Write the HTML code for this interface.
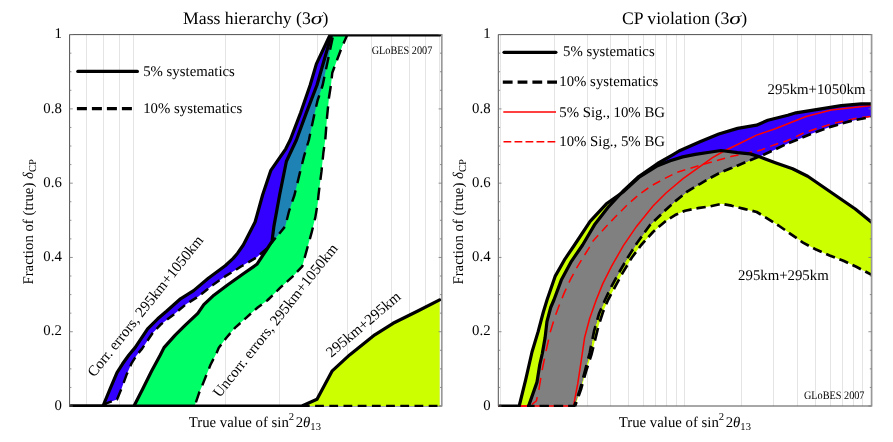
<!DOCTYPE html>
<html><head><meta charset="utf-8"><title>chart</title>
<style>
html,body{margin:0;padding:0;background:#fff;}
body{width:893px;height:442px;overflow:hidden;}
svg{display:block;will-change:transform;}
text{font-family:"Liberation Serif",serif;fill:#000;text-rendering:geometricPrecision;}
.t{font-size:17.7px;}
.l{font-size:14.8px;}
.k{font-size:14.8px;}
.g{font-size:11.5px;}
.grid line{stroke:#e4e4e4;stroke-width:1;}
.tk line{stroke:#777;stroke-width:0.8;}
.s{fill:none;stroke:#000;stroke-width:3.2;stroke-linejoin:round;stroke-linecap:round;}
.d{fill:none;stroke:#000;stroke-width:2.45;stroke-linejoin:round;}
.dr{stroke-width:2.7;}
.dl{fill:none;stroke:#000;stroke-width:3.2;}
.rs{fill:none;stroke:#f00;stroke-width:1.55;}
.rd{fill:none;stroke:#f00;stroke-width:1.55;stroke-dasharray:7.8 3.2;}
</style></head><body>
<svg width="893" height="442" viewBox="0 0 893 442">
<rect width="893" height="442" fill="#fff"/>
<defs>
<clipPath id="cl"><rect x="69.6" y="33.9" width="372.20000000000005" height="373.2"/></clipPath>
<clipPath id="cr"><rect x="498.3" y="33.9" width="373.3" height="373.2"/></clipPath>
<clipPath id="cg"><polygon points="134.0,406.0 142.7,388.9 151.5,371.3 160.3,355.0 164.0,347.6 175.2,335.1 185.3,325.1 197.8,313.4 203.8,304.7 213.9,295.2 227.5,285.0 243.3,273.8 256.9,264.3 266.4,250.0 272.0,241.4 273.9,226.4 279.6,195.0 286.4,161.3 296.4,140.0 306.4,112.6 317.0,85.0 331.5,34.6 441.0,34.6 347.4,34.6 342.2,46.3 332.3,72.7 331.0,85.0 329.0,97.5 327.1,116.4 325.2,140.0 323.4,152.5 321.5,171.4 318.5,195.0 317.8,202.5 315.3,217.6 311.6,232.6 306.6,250.6 302.3,266.3 292.8,276.4 280.3,287.7 267.8,300.0 257.7,307.5 246.4,317.6 235.2,327.6 226.4,337.7 218.8,347.7 216.7,352.7 210.4,365.0 201.9,386.4 199.2,392.6 194.6,406.0"/></clipPath>
<clipPath id="cy"><polygon points="519.2,406.0 525.7,379.6 532.0,352.0 538.2,331.4 543.2,312.5 547.0,300.0 555.1,276.4 565.1,258.8 574.5,245.0 590.1,221.4 606.4,203.8 622.7,192.3 638.8,177.5 657.6,165.7 670.2,160.7 682.7,156.9 695.3,154.4 707.8,152.5 721.0,150.5 737.6,152.6 750.2,153.9 760.2,157.0 775.3,162.7 792.6,168.8 807.7,176.3 855.3,209.0 871.6,222.3 871.6,274.8 856.3,266.8 843.4,260.8 829.6,255.4 816.1,249.6 803.0,242.6 790.4,233.8 778.5,225.5 766.3,217.8 756.7,212.0 744.1,208.9 731.6,205.7 721.5,203.8 710.2,206.3 697.7,208.2 685.1,210.7 675.1,215.1 665.2,221.4 653.0,232.0 641.2,245.0 631.9,257.5 622.8,272.6 615.3,286.4 608.0,300.0 602.8,312.5 598.4,326.3 594.4,342.7 591.6,354.0 586.2,370.8 580.9,389.6 575.1,406.0"/></clipPath>
</defs>
<g class="grid"><line x1="86.5" y1="34.6" x2="86.5" y2="406.0"/><line x1="103.5" y1="34.6" x2="103.5" y2="406.0"/><line x1="119.5" y1="34.6" x2="119.5" y2="406.0"/><line x1="133.5" y1="34.6" x2="133.5" y2="406.0"/><line x1="225.5" y1="34.6" x2="225.5" y2="406.0"/><line x1="279.5" y1="34.6" x2="279.5" y2="406.0"/><line x1="317.5" y1="34.6" x2="317.5" y2="406.0"/><line x1="347.5" y1="34.6" x2="347.5" y2="406.0"/><line x1="371.5" y1="34.6" x2="371.5" y2="406.0"/><line x1="391.5" y1="34.6" x2="391.5" y2="406.0"/><line x1="409.5" y1="34.6" x2="409.5" y2="406.0"/><line x1="425.5" y1="34.6" x2="425.5" y2="406.0"/><line x1="439.5" y1="34.6" x2="439.5" y2="406.0"/></g>
<line x1="69.6" y1="406.0" x2="441.8" y2="406.0" stroke="#505050" stroke-width="1"/>
<g clip-path="url(#cl)">
<polygon fill="#3300ff" points="103.0,406.0 110.1,388.9 117.0,372.6 122.6,363.8 128.9,355.0 135.1,347.6 147.6,328.8 157.7,318.8 166.5,311.3 180.5,298.8 193.6,290.6 208.3,278.2 225.2,265.7 233.2,258.4 237.6,253.2 243.3,245.0 255.1,222.0 262.6,195.0 270.7,170.7 285.8,148.8 290.2,140.0 300.7,112.6 310.2,85.0 316.4,63.9 330.2,34.6 333.3,34.6 322.7,85.0 317.7,100.0 313.9,116.4 308.9,140.0 304.0,156.3 300.2,171.4 294.5,195.0 289.0,211.3 285.2,226.4 272.7,241.4 265.2,250.0 256.5,257.5 241.4,266.3 225.1,276.4 212.5,285.2 198.4,296.4 186.0,304.2 173.5,314.8 161.1,324.2 152.3,333.5 142.3,348.4 136.5,355.5 131.8,362.8 126.4,375.1 121.4,388.9 117.0,399.5 106.3,403.3 104.5,406.0"/>
<polygon fill="#00ff66" points="134.0,406.0 142.7,388.9 151.5,371.3 160.3,355.0 164.0,347.6 175.2,335.1 185.3,325.1 197.8,313.4 203.8,304.7 213.9,295.2 227.5,285.0 243.3,273.8 256.9,264.3 266.4,250.0 272.0,241.4 273.9,226.4 279.6,195.0 286.4,161.3 296.4,140.0 306.4,112.6 317.0,85.0 331.5,34.6 347.4,34.6 342.2,46.3 332.3,72.7 331.0,85.0 329.0,97.5 327.1,116.4 325.2,140.0 323.4,152.5 321.5,171.4 318.5,195.0 317.8,202.5 315.3,217.6 311.6,232.6 306.6,250.6 302.3,266.3 292.8,276.4 280.3,287.7 267.8,300.0 257.7,307.5 246.4,317.6 235.2,327.6 226.4,337.7 218.8,347.7 216.7,352.7 210.4,365.0 201.9,386.4 199.2,392.6 194.6,406.0"/>
<polygon fill="#1f82b4" clip-path="url(#cg)" points="103.0,406.0 110.1,388.9 117.0,372.6 122.6,363.8 128.9,355.0 135.1,347.6 147.6,328.8 157.7,318.8 166.5,311.3 180.5,298.8 193.6,290.6 208.3,278.2 225.2,265.7 233.2,258.4 237.6,253.2 243.3,245.0 255.1,222.0 262.6,195.0 270.7,170.7 285.8,148.8 290.2,140.0 300.7,112.6 310.2,85.0 316.4,63.9 330.2,34.6 333.3,34.6 322.7,85.0 317.7,100.0 313.9,116.4 308.9,140.0 304.0,156.3 300.2,171.4 294.5,195.0 289.0,211.3 285.2,226.4 272.7,241.4 265.2,250.0 256.5,257.5 241.4,266.3 225.1,276.4 212.5,285.2 198.4,296.4 186.0,304.2 173.5,314.8 161.1,324.2 152.3,333.5 142.3,348.4 136.5,355.5 131.8,362.8 126.4,375.1 121.4,388.9 117.0,399.5 106.3,403.3 104.5,406.0"/>
<polygon fill="#ccff00" points="301.9,406.0 317.0,399.3 332.0,371.2 349.6,354.9 374.8,334.8 393.1,323.3 418.3,310.7 439.6,299.8 439.6,406.0"/>
<path class="d" d="M104.5,406.0 L106.3,403.3 L111.8,401.3 M116.9,399.5 L117.0,399.5 L121.2,389.4 M123.6,382.9 L126.4,375.1 L127.6,372.4 M130.3,366.2 L131.8,362.8 L135.3,357.4 M138.6,352.9 L142.3,348.4 L144.1,345.6 M147.4,340.8 L152.3,333.5 L152.8,332.9 M156.5,329.0 L161.1,324.2 L162.8,322.9 M167.1,319.6 L173.5,314.8 L174.1,314.3 M178.2,310.8 L185.0,305.1 M189.4,302.1 L196.9,297.4 M201.2,294.2 L208.1,288.7 M212.3,285.3 L212.5,285.2 L219.5,280.3 M224.0,277.2 L225.1,276.4 L231.4,272.5 M236.0,269.7 L241.4,266.3 L243.5,265.1 M248.2,262.4 L255.8,257.9 M259.9,254.5 L265.2,250.0 L266.4,248.6 M270.0,244.5 L272.7,241.4 L275.7,237.8 M279.2,233.7 L284.8,226.9 M286.8,220.0 L289.0,211.3 L290.0,208.4 M292.2,201.7 L294.5,195.0 L295.6,190.4 M297.4,183.1 L300.2,171.4 L300.2,171.3 M302.1,164.0 L304.0,156.3 L305.2,152.4 M307.2,145.5 L308.9,140.0 L310.2,133.8 M311.8,126.3 L313.9,116.4 L314.4,114.2 M316.1,106.8 L317.7,100.0 L319.3,95.3 M321.5,88.6 L322.7,85.0 L324.4,76.8 M326.0,69.3 L328.6,57.1 M330.1,49.7 L332.7,37.5"/>
<path class="d" d="M195.9,402.4 L199.2,392.6 L199.7,391.6 M202.3,385.4 L206.4,375.0 M209.0,368.6 L210.4,365.0 L213.5,358.9 M216.4,353.2 L216.7,352.7 L218.8,347.7 L221.3,344.4 M224.7,339.9 L226.4,337.7 L230.4,333.1 M234.0,329.0 L235.2,327.6 L240.4,323.0 M244.4,319.4 L246.4,317.6 L250.9,313.5 M255.0,309.9 L257.7,307.5 L261.8,304.4 M266.2,301.2 L267.8,300.0 L272.6,295.3 M276.5,291.5 L280.3,287.7 L282.8,285.4 M286.8,281.8 L292.8,276.4 L293.3,275.8 M297.0,271.9 L302.3,266.3 L302.7,264.9 M304.6,257.8 L306.6,250.6 L307.8,246.2 M309.8,239.1 L311.6,232.6 L312.9,227.5 M314.6,220.2 L315.3,217.6 L316.9,207.9 M318.0,200.2 L318.5,195.0 L319.4,187.6 M320.4,179.9 L321.5,171.4 L321.9,167.3 M322.7,159.6 L323.4,152.5 L324.2,147.0 M325.3,139.3 L326.3,126.7 M326.9,118.9 L327.1,116.4 L328.1,106.3 M328.9,98.6 L329.0,97.5 L330.8,86.0 M331.7,78.3 L332.3,72.7 L334.5,66.8 M336.9,60.3 L340.9,49.7 M343.5,43.4 L347.4,34.6"/>
<path class="d" d="M301.9,406.0 L309.7,406.0 M315.1,406.0 L323.9,406.0 M329.3,406.0 L338.1,406.0 M343.5,406.0 L352.3,406.0 M357.7,406.0 L366.5,406.0 M371.9,406.0 L380.7,406.0 M386.1,406.0 L394.9,406.0 M400.3,406.0 L409.1,406.0 M414.5,406.0 L423.3,406.0 M428.7,406.0 L437.5,406.0"/>
<polyline class="s" points="70.6,406.0 103.0,406.0 110.1,388.9 117.0,372.6 122.6,363.8 128.9,355.0 135.1,347.6 147.6,328.8 157.7,318.8 166.5,311.3 180.5,298.8 193.6,290.6 208.3,278.2 225.2,265.7 233.2,258.4 237.6,253.2 243.3,245.0 255.1,222.0 262.6,195.0 270.7,170.7 285.8,148.8 290.2,140.0 300.7,112.6 310.2,85.0 316.4,63.9 330.2,34.6 439.8,35.0"/>
<polyline class="s" points="134.0,406.0 142.7,388.9 151.5,371.3 160.3,355.0 164.0,347.6 175.2,335.1 185.3,325.1 197.8,313.4 203.8,304.7 213.9,295.2 227.5,285.0 243.3,273.8 256.9,264.3 266.4,250.0 272.0,241.4 273.9,226.4 279.6,195.0 286.4,161.3 296.4,140.0 306.4,112.6 317.0,85.0 331.5,34.6"/>
<polyline class="s" points="70.6,406.0 301.9,406.0 317.0,399.3 332.0,371.2 349.6,354.9 374.8,334.8 393.1,323.3 418.3,310.7 439.6,299.8"/>
</g>
<path d="M441.8,34.6 L69.6,34.6 L69.6,406.0" fill="none" stroke="#505050" stroke-width="1"/><line x1="441.8" y1="34.1" x2="441.8" y2="406.5" stroke="#999" stroke-width="1.7"/>
<g class="tk"><line x1="69.6" y1="406.00" x2="72.8" y2="406.00"/><line x1="441.8" y1="406.00" x2="438.6" y2="406.00"/><line x1="69.6" y1="387.43" x2="71.39999999999999" y2="387.43"/><line x1="441.8" y1="387.43" x2="440.0" y2="387.43"/><line x1="69.6" y1="368.86" x2="71.39999999999999" y2="368.86"/><line x1="441.8" y1="368.86" x2="440.0" y2="368.86"/><line x1="69.6" y1="350.29" x2="71.39999999999999" y2="350.29"/><line x1="441.8" y1="350.29" x2="440.0" y2="350.29"/><line x1="69.6" y1="331.72" x2="72.8" y2="331.72"/><line x1="441.8" y1="331.72" x2="438.6" y2="331.72"/><line x1="69.6" y1="313.15" x2="71.39999999999999" y2="313.15"/><line x1="441.8" y1="313.15" x2="440.0" y2="313.15"/><line x1="69.6" y1="294.58" x2="71.39999999999999" y2="294.58"/><line x1="441.8" y1="294.58" x2="440.0" y2="294.58"/><line x1="69.6" y1="276.01" x2="71.39999999999999" y2="276.01"/><line x1="441.8" y1="276.01" x2="440.0" y2="276.01"/><line x1="69.6" y1="257.44" x2="72.8" y2="257.44"/><line x1="441.8" y1="257.44" x2="438.6" y2="257.44"/><line x1="69.6" y1="238.87" x2="71.39999999999999" y2="238.87"/><line x1="441.8" y1="238.87" x2="440.0" y2="238.87"/><line x1="69.6" y1="220.30" x2="71.39999999999999" y2="220.30"/><line x1="441.8" y1="220.30" x2="440.0" y2="220.30"/><line x1="69.6" y1="201.73" x2="71.39999999999999" y2="201.73"/><line x1="441.8" y1="201.73" x2="440.0" y2="201.73"/><line x1="69.6" y1="183.16" x2="72.8" y2="183.16"/><line x1="441.8" y1="183.16" x2="438.6" y2="183.16"/><line x1="69.6" y1="164.59" x2="71.39999999999999" y2="164.59"/><line x1="441.8" y1="164.59" x2="440.0" y2="164.59"/><line x1="69.6" y1="146.02" x2="71.39999999999999" y2="146.02"/><line x1="441.8" y1="146.02" x2="440.0" y2="146.02"/><line x1="69.6" y1="127.45" x2="71.39999999999999" y2="127.45"/><line x1="441.8" y1="127.45" x2="440.0" y2="127.45"/><line x1="69.6" y1="108.88" x2="72.8" y2="108.88"/><line x1="441.8" y1="108.88" x2="438.6" y2="108.88"/><line x1="69.6" y1="90.31" x2="71.39999999999999" y2="90.31"/><line x1="441.8" y1="90.31" x2="440.0" y2="90.31"/><line x1="69.6" y1="71.74" x2="71.39999999999999" y2="71.74"/><line x1="441.8" y1="71.74" x2="440.0" y2="71.74"/><line x1="69.6" y1="53.17" x2="71.39999999999999" y2="53.17"/><line x1="441.8" y1="53.17" x2="440.0" y2="53.17"/><line x1="69.6" y1="34.60" x2="72.8" y2="34.60"/><line x1="441.8" y1="34.60" x2="438.6" y2="34.60"/></g>
<text class="k" x="61.8" y="38.3" text-anchor="end">1</text><text class="k" x="61.8" y="112.6" text-anchor="end">0.8</text><text class="k" x="61.8" y="186.9" text-anchor="end">0.6</text><text class="k" x="61.8" y="261.1" text-anchor="end">0.4</text><text class="k" x="61.8" y="335.4" text-anchor="end">0.2</text><text class="k" x="61.8" y="409.7" text-anchor="end">0</text>
<text class="l" x="188.7" y="427.2">True value of sin<tspan font-size="10.6" dy="-6.8">2</tspan><tspan dy="6.8" dx="1.5">2</tspan><tspan font-style="italic">θ</tspan><tspan font-size="10.6" dy="2.5">13</tspan></text>
<text class="l" transform="translate(32.6,221.8) rotate(-90)" text-anchor="middle">Fraction of (true) <tspan font-style="italic">δ</tspan><tspan font-size="10.6" dy="3">CP</tspan></text>
<text class="t" x="183.1" y="24.3">Mass hierarchy (3<tspan font-style="italic" textLength="11.8" lengthAdjust="spacingAndGlyphs">σ</tspan>)</text>
<text class="g" x="371.7" y="53.9" textLength="60.6" lengthAdjust="spacingAndGlyphs">GLoBES 2007</text>
<line class="s" x1="77.8" y1="71.4" x2="137.4" y2="71.4" stroke-linecap="round"/>
<line class="dl" stroke-dasharray="10 5" x1="76.9" y1="108.6" x2="132.1" y2="108.6"/>
<text class="l" x="143.2" y="76">5% systematics</text>
<text class="l" x="143.2" y="113">10% systematics</text>
<text class="l" transform="translate(94.3,377.8) rotate(-51.4)" style="font-size:15px">Corr. errors, 295km+1050km</text>
<text class="l" transform="translate(219.8,398.2) rotate(-51.6)" style="font-size:15px">Uncorr. errors, 295km+1050km</text>
<text class="l" transform="translate(331.3,358) rotate(-40.3)" style="font-size:15.1px">295km+295km</text>
<g class="grid"><line x1="500.5" y1="34.6" x2="500.5" y2="406.0"/><line x1="554.5" y1="34.6" x2="554.5" y2="406.0"/><line x1="587.5" y1="34.6" x2="587.5" y2="406.0"/><line x1="610.5" y1="34.6" x2="610.5" y2="406.0"/><line x1="628.5" y1="34.6" x2="628.5" y2="406.0"/><line x1="643.5" y1="34.6" x2="643.5" y2="406.0"/><line x1="655.5" y1="34.6" x2="655.5" y2="406.0"/><line x1="666.5" y1="34.6" x2="666.5" y2="406.0"/><line x1="676.5" y1="34.6" x2="676.5" y2="406.0"/><line x1="684.5" y1="34.6" x2="684.5" y2="406.0"/><line x1="741.5" y1="34.6" x2="741.5" y2="406.0"/><line x1="773.5" y1="34.6" x2="773.5" y2="406.0"/><line x1="797.5" y1="34.6" x2="797.5" y2="406.0"/><line x1="815.5" y1="34.6" x2="815.5" y2="406.0"/><line x1="830.5" y1="34.6" x2="830.5" y2="406.0"/><line x1="842.5" y1="34.6" x2="842.5" y2="406.0"/><line x1="853.5" y1="34.6" x2="853.5" y2="406.0"/><line x1="862.5" y1="34.6" x2="862.5" y2="406.0"/></g>
<line x1="498.3" y1="406.0" x2="871.6" y2="406.0" stroke="#505050" stroke-width="1"/>
<g clip-path="url(#cr)">
<polygon fill="#ccff00" points="519.2,406.0 525.7,379.6 532.0,352.0 538.2,331.4 543.2,312.5 547.0,300.0 555.1,276.4 565.1,258.8 574.5,245.0 590.1,221.4 606.4,203.8 622.7,192.3 638.8,177.5 657.6,165.7 670.2,160.7 682.7,156.9 695.3,154.4 707.8,152.5 721.0,150.5 737.6,152.6 750.2,153.9 760.2,157.0 775.3,162.7 792.6,168.8 807.7,176.3 855.3,209.0 871.6,222.3 871.6,274.8 856.3,266.8 843.4,260.8 829.6,255.4 816.1,249.6 803.0,242.6 790.4,233.8 778.5,225.5 766.3,217.8 756.7,212.0 744.1,208.9 731.6,205.7 721.5,203.8 710.2,206.3 697.7,208.2 685.1,210.7 675.1,215.1 665.2,221.4 653.0,232.0 641.2,245.0 631.9,257.5 622.8,272.6 615.3,286.4 608.0,300.0 602.8,312.5 598.4,326.3 594.4,342.7 591.6,354.0 586.2,370.8 580.9,389.6 575.1,406.0"/>
<polygon fill="#3300ff" points="528.6,406.0 537.0,382.1 539.8,364.5 542.3,353.5 545.1,337.6 547.0,321.3 550.7,307.5 553.9,300.0 561.3,280.1 571.4,261.3 582.6,245.0 595.1,223.9 608.9,206.3 622.7,191.5 638.8,176.5 657.6,163.5 672.7,154.8 679.0,151.0 700.0,141.8 718.8,134.0 737.6,128.4 756.5,125.2 767.8,120.2 787.8,115.2 796.0,112.8 841.2,105.7 861.3,103.8 871.6,103.8 871.6,116.8 851.3,120.9 831.2,126.6 812.0,133.4 800.4,138.4 787.8,143.4 775.3,149.4 762.7,155.2 750.2,160.2 732.0,167.8 720.4,172.6 707.8,179.2 700.2,183.8 687.6,191.3 674.0,202.3 662.0,213.5 650.2,224.8 637.0,243.0 627.8,257.5 619.0,272.6 611.5,286.4 605.2,299.5 599.0,313.8 594.0,331.4 589.8,352.5 585.0,370.8 580.0,389.6 574.3,406.0"/>
<polygon fill="#808080" clip-path="url(#cy)" points="528.6,406.0 537.0,382.1 539.8,364.5 542.3,353.5 545.1,337.6 547.0,321.3 550.7,307.5 553.9,300.0 561.3,280.1 571.4,261.3 582.6,245.0 595.1,223.9 608.9,206.3 622.7,191.5 638.8,176.5 657.6,163.5 672.7,154.8 679.0,151.0 700.0,141.8 718.8,134.0 737.6,128.4 756.5,125.2 767.8,120.2 787.8,115.2 796.0,112.8 841.2,105.7 861.3,103.8 871.6,103.8 871.6,116.8 851.3,120.9 831.2,126.6 812.0,133.4 800.4,138.4 787.8,143.4 775.3,149.4 762.7,155.2 750.2,160.2 732.0,167.8 720.4,172.6 707.8,179.2 700.2,183.8 687.6,191.3 674.0,202.3 662.0,213.5 650.2,224.8 637.0,243.0 627.8,257.5 619.0,272.6 611.5,286.4 605.2,299.5 599.0,313.8 594.0,331.4 589.8,352.5 585.0,370.8 580.0,389.6 574.3,406.0"/>
<polyline class="rs" points="498.3,406.0 573.4,406.0 573.6,405.3 577.8,383.4 582.3,353.5 584.6,337.6 589.6,318.8 596.2,300.0 602.7,283.9 611.5,266.3 623.4,245.6 636.5,226.4 652.8,206.3 666.0,193.0 682.7,178.9 700.2,166.3 712.5,157.7 725.1,150.5 737.6,144.5 756.5,135.1 775.3,128.8 794.1,121.3 806.1,116.5 831.2,110.0 871.6,105.6"/>
<path class="rs" d="M498.3,406.0 L499.5,406.0 M504.9,406.0 L513.3,406.0 M518.7,406.0 L527.1,406.0 M531.9,404.5 L536.4,400.9 L537.2,397.2 M538.8,389.8 L538.9,389.6 L540.8,377.9 M542.1,370.2 L544.5,358.6 M546.0,351.1 L548.6,339.6 M550.2,332.2 L553.5,321.5 M555.7,314.7 L559.5,304.6 M562.1,298.2 L563.8,293.9 L566.2,288.6 M569.0,282.6 L570.1,280.1 L573.5,273.8 M576.5,268.2 L577.6,266.3 L581.4,260.1 M584.6,255.0 L588.9,248.1 L589.6,246.9 M592.6,241.4 L598.2,235.2 M601.9,231.2 L603.9,228.9 L607.6,225.0 M611.3,221.1 L615.2,217.0 L617.1,215.1 M621.0,211.2 L626.9,205.3 M630.9,201.7 L637.2,196.1 M641.4,192.8 L648.3,188.0 M652.8,185.0 L660.2,181.0 M664.9,178.4 L672.4,174.6 M677.3,172.3 L685.3,169.8 M690.5,168.2 L698.5,165.8 M703.7,164.3 L705.3,163.8 L711.8,161.9 M717.0,160.4 L720.4,159.4 L725.1,158.2 M730.3,156.8 L732.0,156.3 L738.5,154.9 M743.7,153.8 L752.0,152.0 M757.2,150.9 L760.9,150.1 L765.2,148.4 M770.2,146.4 L774.0,144.9 L778.2,143.6 M783.3,142.0 L787.0,140.8 L791.1,138.9 M796.0,136.6 L803.6,133.0 M808.7,131.2 L816.7,128.6 M821.8,127.0 L829.8,124.4 M835.0,123.0 L843.2,121.2 M848.5,120.0 L856.3,118.2 L856.7,118.2 M862.0,117.5 L870.4,116.5"/>
<path class="d dr" d="M575.1,406.0 L576.5,402.0 M578.6,396.0 L580.9,389.6 L582.4,384.1 M584.2,377.7 L586.2,370.8 L587.9,365.6 M589.8,359.5 L591.6,354.0 L593.3,347.2 M594.9,340.6 L598.0,328.0 M599.9,321.7 L602.8,312.5 L603.8,310.0 M606.2,304.3 L608.0,300.0 L611.1,294.1 M613.9,289.1 L615.3,286.4 L619.1,279.4 M621.8,274.4 L622.8,272.6 L627.3,265.2 M630.1,260.4 L631.9,257.5 L635.9,252.1 M639.0,248.0 L641.2,245.0 L645.1,240.7 M648.4,237.1 L653.0,232.0 L654.9,230.3 M658.6,227.1 L665.2,221.4 L665.8,221.0 M669.9,218.4 L675.1,215.1 L678.1,213.8 M682.6,211.8 L685.1,210.7 L691.6,209.4 M696.4,208.5 L697.7,208.2 L705.7,207.0 M710.6,206.2 L719.7,204.2 M724.5,204.4 L731.6,205.7 L733.7,206.2 M738.5,207.5 L744.1,208.9 L747.6,209.8 M752.4,210.9 L756.7,212.0 L760.9,214.5 M765.1,217.1 L766.3,217.8 L773.1,222.1 M777.2,224.7 L778.5,225.5 L785.0,230.0 M789.0,232.8 L790.4,233.8 L796.7,238.2 M800.7,241.0 L803.0,242.6 L808.8,245.7 M813.2,248.0 L816.1,249.6 L821.7,252.0 M826.2,253.9 L829.6,255.4 L834.9,257.5 M839.4,259.2 L843.4,260.8 L848.1,263.0 M852.5,265.0 L856.3,266.8 L860.9,269.2 M865.3,271.5 L871.6,274.8"/>
<path class="d dr" d="M527.0,406.0 L534.6,406.0 M539.5,406.0 L548.9,406.0 M553.8,406.0 L563.2,406.0 M568.1,406.0 L574.3,406.0 L575.7,402.0 M577.8,396.0 L580.0,389.6 L581.5,384.0 M583.2,377.5 L585.0,370.8 L586.5,365.1 M588.2,358.6 L589.8,352.5 L591.1,345.8 M592.5,338.9 L594.0,331.4 L595.5,326.2 M597.3,319.8 L599.0,313.8 L601.4,308.4 M603.8,302.8 L605.2,299.5 L608.6,292.4 M611.2,287.0 L611.5,286.4 L616.4,277.3 M619.2,272.3 L624.6,263.0 M627.4,258.2 L627.8,257.5 L633.0,249.3 M635.9,244.7 L637.0,243.0 L641.7,236.5 M644.7,232.3 L650.2,224.8 L650.6,224.4 M654.2,221.0 L661.0,214.5 M664.5,211.1 L671.4,204.7 M675.1,201.4 L682.4,195.5 M686.2,192.4 L687.6,191.3 L694.1,187.4 M698.3,184.9 L700.2,183.8 L706.4,180.1 M710.7,177.7 L719.0,173.3 M723.5,171.3 L732.0,167.8 L732.1,167.7 M736.7,165.9 L745.3,162.2 M749.9,160.3 L750.2,160.2 L758.6,156.8 M763.1,155.0 L771.7,151.1 M776.1,149.0 L784.6,144.9 M789.0,142.9 L797.8,139.4 M802.3,137.6 L810.9,133.9 M815.5,132.2 L824.4,129.0 M829.0,127.4 L831.2,126.6 L838.0,124.7 M842.7,123.3 L851.3,120.9 L851.8,120.8 M856.6,119.8 L865.8,118.0 M870.6,117.0 L871.6,116.8"/>
<polyline class="s" points="499.3,406.0 519.2,406.0 525.7,379.6 532.0,352.0 538.2,331.4 543.2,312.5 547.0,300.0 555.1,276.4 565.1,258.8 574.5,245.0 590.1,221.4 606.4,203.8 622.7,192.3 638.8,177.5 657.6,165.7 670.2,160.7 682.7,156.9 695.3,154.4 707.8,152.5 721.0,150.5 737.6,152.6 750.2,153.9 760.2,157.0 775.3,162.7 792.6,168.8 807.7,176.3 855.3,209.0 871.6,222.3"/>
<polyline class="s" points="528.6,406.0 537.0,382.1 539.8,364.5 542.3,353.5 545.1,337.6 547.0,321.3 550.7,307.5 553.9,300.0 561.3,280.1 571.4,261.3 582.6,245.0 595.1,223.9 608.9,206.3 622.7,191.5 638.8,176.5 657.6,163.5 672.7,154.8 679.0,151.0 700.0,141.8 718.8,134.0 737.6,128.4 756.5,125.2 767.8,120.2 787.8,115.2 796.0,112.8 841.2,105.7 861.3,103.8 871.6,103.8"/>
</g>
<path d="M871.6,34.6 L498.3,34.6 L498.3,406.0" fill="none" stroke="#505050" stroke-width="1"/><line x1="871.6" y1="34.1" x2="871.6" y2="406.5" stroke="#999" stroke-width="1.7"/>
<g class="tk"><line x1="498.3" y1="406.00" x2="501.5" y2="406.00"/><line x1="871.6" y1="406.00" x2="868.4" y2="406.00"/><line x1="498.3" y1="387.43" x2="500.1" y2="387.43"/><line x1="871.6" y1="387.43" x2="869.8000000000001" y2="387.43"/><line x1="498.3" y1="368.86" x2="500.1" y2="368.86"/><line x1="871.6" y1="368.86" x2="869.8000000000001" y2="368.86"/><line x1="498.3" y1="350.29" x2="500.1" y2="350.29"/><line x1="871.6" y1="350.29" x2="869.8000000000001" y2="350.29"/><line x1="498.3" y1="331.72" x2="501.5" y2="331.72"/><line x1="871.6" y1="331.72" x2="868.4" y2="331.72"/><line x1="498.3" y1="313.15" x2="500.1" y2="313.15"/><line x1="871.6" y1="313.15" x2="869.8000000000001" y2="313.15"/><line x1="498.3" y1="294.58" x2="500.1" y2="294.58"/><line x1="871.6" y1="294.58" x2="869.8000000000001" y2="294.58"/><line x1="498.3" y1="276.01" x2="500.1" y2="276.01"/><line x1="871.6" y1="276.01" x2="869.8000000000001" y2="276.01"/><line x1="498.3" y1="257.44" x2="501.5" y2="257.44"/><line x1="871.6" y1="257.44" x2="868.4" y2="257.44"/><line x1="498.3" y1="238.87" x2="500.1" y2="238.87"/><line x1="871.6" y1="238.87" x2="869.8000000000001" y2="238.87"/><line x1="498.3" y1="220.30" x2="500.1" y2="220.30"/><line x1="871.6" y1="220.30" x2="869.8000000000001" y2="220.30"/><line x1="498.3" y1="201.73" x2="500.1" y2="201.73"/><line x1="871.6" y1="201.73" x2="869.8000000000001" y2="201.73"/><line x1="498.3" y1="183.16" x2="501.5" y2="183.16"/><line x1="871.6" y1="183.16" x2="868.4" y2="183.16"/><line x1="498.3" y1="164.59" x2="500.1" y2="164.59"/><line x1="871.6" y1="164.59" x2="869.8000000000001" y2="164.59"/><line x1="498.3" y1="146.02" x2="500.1" y2="146.02"/><line x1="871.6" y1="146.02" x2="869.8000000000001" y2="146.02"/><line x1="498.3" y1="127.45" x2="500.1" y2="127.45"/><line x1="871.6" y1="127.45" x2="869.8000000000001" y2="127.45"/><line x1="498.3" y1="108.88" x2="501.5" y2="108.88"/><line x1="871.6" y1="108.88" x2="868.4" y2="108.88"/><line x1="498.3" y1="90.31" x2="500.1" y2="90.31"/><line x1="871.6" y1="90.31" x2="869.8000000000001" y2="90.31"/><line x1="498.3" y1="71.74" x2="500.1" y2="71.74"/><line x1="871.6" y1="71.74" x2="869.8000000000001" y2="71.74"/><line x1="498.3" y1="53.17" x2="500.1" y2="53.17"/><line x1="871.6" y1="53.17" x2="869.8000000000001" y2="53.17"/><line x1="498.3" y1="34.60" x2="501.5" y2="34.60"/><line x1="871.6" y1="34.60" x2="868.4" y2="34.60"/></g>
<text class="k" x="490.6" y="38.3" text-anchor="end">1</text><text class="k" x="490.6" y="112.6" text-anchor="end">0.8</text><text class="k" x="490.6" y="186.9" text-anchor="end">0.6</text><text class="k" x="490.6" y="261.1" text-anchor="end">0.4</text><text class="k" x="490.6" y="335.4" text-anchor="end">0.2</text><text class="k" x="490.6" y="409.7" text-anchor="end">0</text>
<text class="l" x="618.7" y="427.2">True value of sin<tspan font-size="10.6" dy="-6.8">2</tspan><tspan dy="6.8" dx="1.5">2</tspan><tspan font-style="italic">θ</tspan><tspan font-size="10.6" dy="2.5">13</tspan></text>
<text class="l" transform="translate(463.4,221.8) rotate(-90)" text-anchor="middle">Fraction of (true) <tspan font-style="italic">δ</tspan><tspan font-size="10.6" dy="3">CP</tspan></text>
<text class="t" x="621.9" y="24.3">CP violation (3<tspan font-style="italic" textLength="11.8" lengthAdjust="spacingAndGlyphs">σ</tspan>)</text>
<text class="g" x="803.9" y="398.8" textLength="60.6" lengthAdjust="spacingAndGlyphs">GLoBES 2007</text>
<line class="s" x1="504" y1="52.3" x2="555.9" y2="52.3" stroke-linecap="round"/>
<line class="dl" stroke-dasharray="9.8 5" x1="502.8" y1="82.1" x2="557.1" y2="82.1"/>
<line class="rs" x1="503.3" y1="112" x2="556" y2="112"/>
<line class="rd" x1="503.5" y1="141.8" x2="555.6" y2="141.8"/>
<text class="l" x="563" y="56.4">5% systematics</text>
<text class="l" x="559.3" y="86.19999999999999">10% systematics</text>
<text class="l" x="559.3" y="116.6">5% Sig., 10% BG</text>
<text class="l" x="559.3" y="146.4">10% Sig., 5% BG</text>
<text class="l" x="767.5" y="93.9">295km+1050km</text>
<text class="l" x="738.1" y="279.8">295km+295km</text>
</svg></body></html>
